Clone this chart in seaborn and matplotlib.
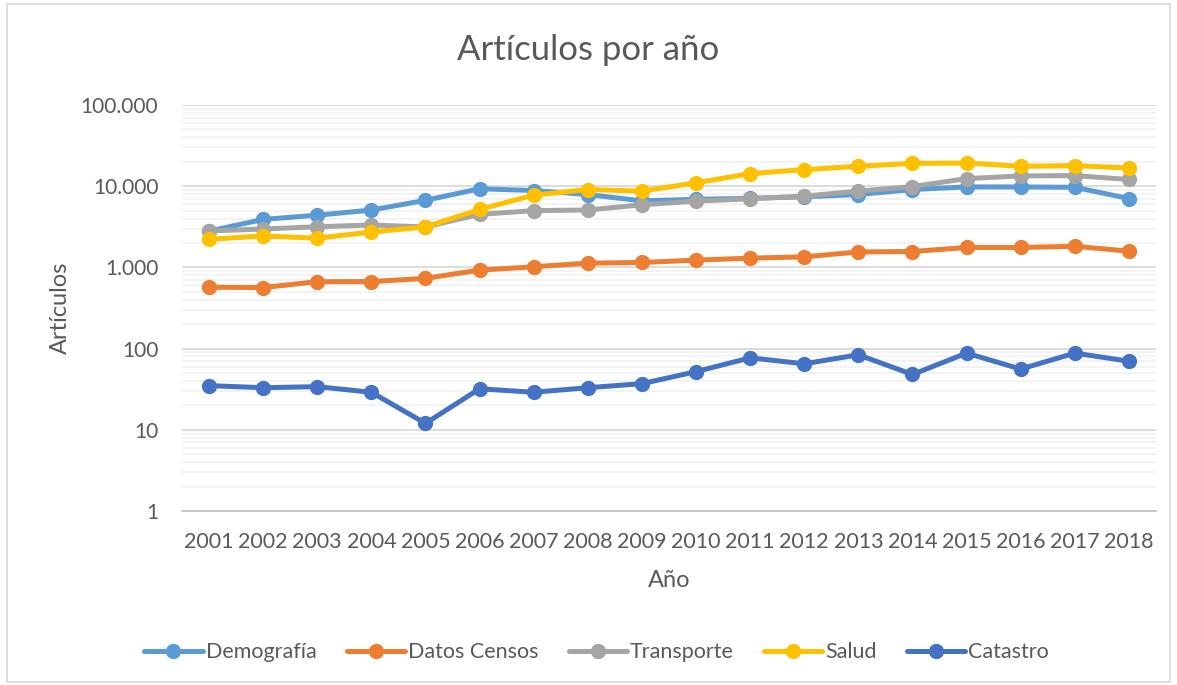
import numpy as np
import pandas as pd
import matplotlib
matplotlib.use("Agg")
import matplotlib.pyplot as plt
import matplotlib.ticker as mticker
import seaborn as sns

years = [str(y) for y in range(2001, 2019)]
series_names = ["Demografía", "Datos Censos", "Transporte", "Salud", "Catastro"]
demografia = [2800, 3900, 4400, 5080, 6700, 9300, 8850, 7900, 6600,
              6900, 7100, 7400, 7900, 9100, 9800, 9800, 9700, 7050]
datos_censos = [570, 565, 667, 670, 733, 927, 1018, 1130, 1150,
                1230, 1300, 1350, 1550, 1570, 1760, 1760, 1820, 1585]
transporte = [2810, 2970, 3170, 3330, 3150, 4500, 5000, 5100, 5900,
              6550, 7000, 7550, 8700, 9900, 12400, 13400, 13500, 12100]
salud = [2220, 2440, 2290, 2730, 3150, 5180, 7760, 9100, 8700,
         11000, 14300, 16000, 17600, 19100, 19300, 17600, 17900, 16800]
catastro = [35, 33, 34, 29, 12, 32, 29, 33, 37,
            52, 77, 65, 84, 48, 88, 56, 88, 70]
colors = ["#5B9BD5", "#ED7D31", "#A5A5A5", "#FFC000", "#4472C4"]

values = [demografia, datos_censos, transporte, salud, catastro]
df = pd.DataFrame({
    "pos": np.tile(np.arange(len(years)), len(series_names)),
    "Artículos": np.concatenate(values),
    "serie": np.repeat(series_names, len(years)),
})

sns.set_style("white")
plt.rcParams["font.family"] = ["Lato", "DejaVu Sans"]
text_col = "#595959"

fig = plt.figure(figsize=(11.77, 6.85), dpi=100)
ax = fig.add_axes([0.1546, 0.254, 0.8275, 0.5927])

for name, col in zip(series_names, colors):
    sns.lineplot(data=df[df["serie"] == name], x="pos", y="Artículos", ax=ax,
                 color=col, lw=3.6, marker="o", markersize=11,
                 markeredgewidth=0, label=name)

ax.set_yscale("log")
ax.set_ylim(1, 100000)
ax.yaxis.set_major_locator(mticker.LogLocator(base=10, numticks=10))
ax.yaxis.set_minor_locator(mticker.LogLocator(base=10, subs=np.arange(2, 10), numticks=20))
ax.yaxis.set_major_formatter(mticker.FuncFormatter(lambda v, p: f"{int(round(v)):,}".replace(",", ".")))
ax.yaxis.set_minor_formatter(mticker.NullFormatter())
ax.grid(which="major", axis="y", color="#D9D9D9", lw=1.3)
ax.grid(which="minor", axis="y", color="#F2F2F2", lw=1.3)
ax.set_axisbelow(True)
ax.tick_params(axis="y", which="both", length=0, labelsize=15, labelcolor=text_col, pad=17)

ax.set_xlim(-0.5, len(years) - 0.5)
ax.set_xticks(np.arange(-0.5, len(years), 1))
ax.set_xticklabels([])
ax.set_xticks(np.arange(len(years)), minor=True)
ax.set_xticklabels(years, minor=True)
ax.tick_params(axis="x", which="major", length=6, color="#BFBFBF", width=1.2, direction="out")
ax.tick_params(axis="x", which="minor", length=0, labelsize=15.5, labelcolor=text_col, pad=15)

for s in ["top", "right", "left"]:
    ax.spines[s].set_visible(False)
ax.spines["bottom"].set_color("#BFBFBF")
ax.spines["bottom"].set_linewidth(1.2)

ax.set_xlabel("Año", fontsize=17, color=text_col)
ax.set_ylabel("Artículos", fontsize=17, color=text_col)
ax.xaxis.set_label_coords(0.5, -0.145)
ax.yaxis.set_label_coords(-0.114, 0.5)
fig.text(0.5, 0.927, "Artículos por año", ha="center", va="center",
         fontsize=25, color=text_col)

ax.legend(loc="center", bbox_to_anchor=(0.507, 0.048), bbox_transform=fig.transFigure,
          ncol=5, frameon=False, fontsize=15.5, labelcolor=text_col,
          handlelength=2.7, handletextpad=0.15, columnspacing=1.4)

fig.patches.append(plt.Rectangle((0.006, 0.004), 0.988, 0.99, transform=fig.transFigure,
                                 fill=False, edgecolor="#D9D9D9", lw=1.2))

fig.savefig("out.png", dpi=100)
